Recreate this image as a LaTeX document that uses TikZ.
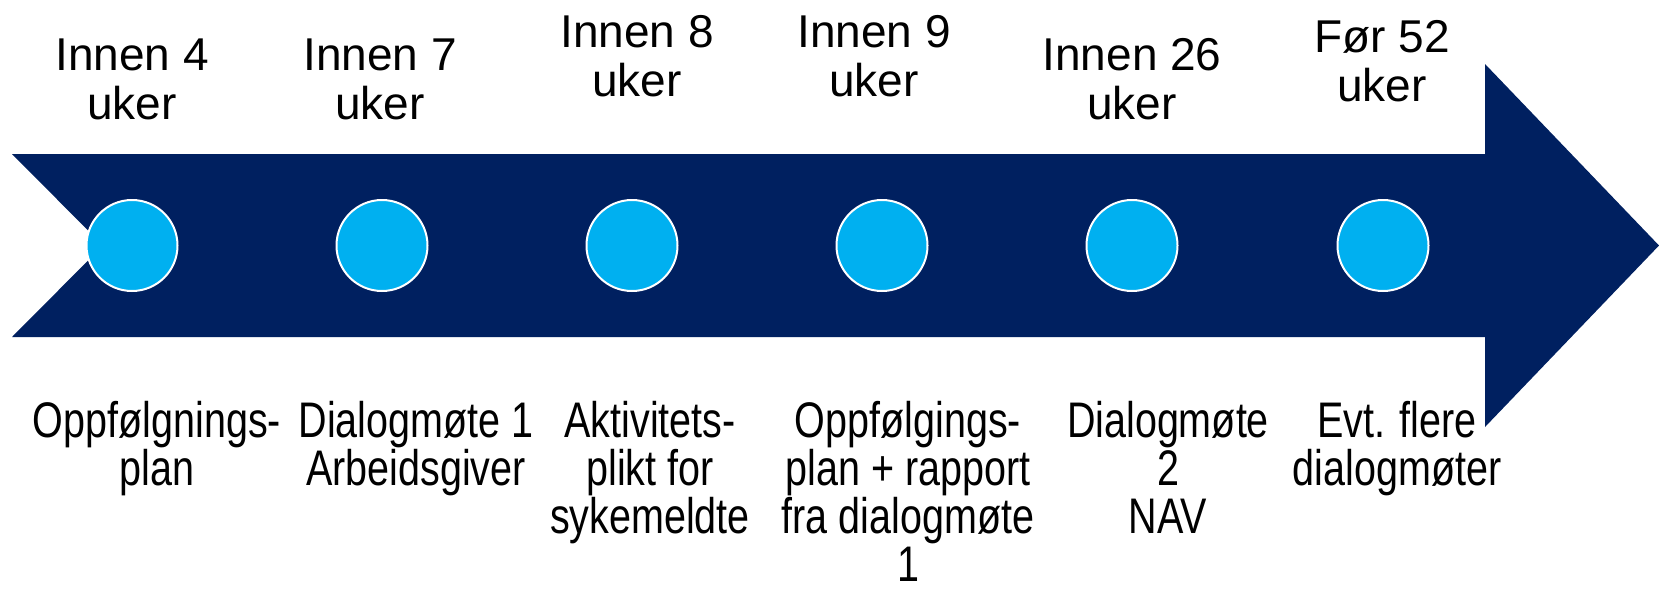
\documentclass[tikz,border=0pt]{standalone}
\usepackage{fontspec}
\setmainfont{Liberation Sans}
\newfontfamily\condsans{Liberation Sans}[FakeStretch=0.79]
\usepackage{xcolor}
\usetikzlibrary{positioning}

\definecolor{navy}{HTML}{002060}
\definecolor{skyblue}{HTML}{00B0F0}

\begin{document}
\begin{tikzpicture}[x=0.5pt, y=-0.5pt,
  dot/.style={circle, draw=white, line width=1pt, fill=skyblue,
              minimum size=45.5pt, inner sep=0pt},
  wk/.style={anchor=south, align=center, inner sep=0pt,
             font=\fontsize{23pt}{24.5pt}\selectfont},
  task/.style={anchor=north, align=center, inner sep=0pt,
               font=\condsans\fontsize{25pt}{24pt}\selectfont}]
  \useasboundingbox (0,0) rectangle (1659,589);
  % notched arrow
  \fill[navy] (12,154) -- (1485,154) -- (1485,64) -- (1659,245.5)
    -- (1485,427) -- (1485,337) -- (12,337) -- (103,245.5) -- cycle;
  % milestones
  \node[dot] (m1) at (132,245.5) {};
  \node[dot] (m2) at (382,245.5) {};
  \node[dot] (m3) at (632,245.5) {};
  \node[dot] (m4) at (882,245.5) {};
  \node[dot] (m5) at (1132,245.5) {};
  \node[dot] (m6) at (1383,245.5) {};
  % deadlines above
  \node[wk] (w1) at (132,120) {Innen 4\\uker};
  \node[wk] (w2) at (380,120) {Innen 7\\uker};
  \node[wk] (w3) at (637,97) {Innen 8\\uker};
  \node[wk] (w4) at (874,97) {Innen 9\\uker};
  \node[wk] (w5) at (1132,120) {Innen 26\\uker};
  \node[wk] (w6) at (1382,102) {Før 52\\uker};
  % what happens below
  \node[task] (t1) at (157,401) {Oppfølgnings-\\plan};
  \node[task] (t2) at (416,401) {Dialogmøte 1\\Arbeidsgiver};
  \node[task] (t3) at (650,401) {Aktivitets-\\plikt for\\sykemeldte};
  \node[task] (t4) at (908,401) {Oppfølgings-\\plan + rapport\\fra dialogmøte\\1};
  \node[task] (t5) at (1168,401) {Dialogmøte\\2\\NAV};
  \node[task] (t6) at (1397,401) {Evt. flere\\dialogmøter};
\end{tikzpicture}
\end{document}
